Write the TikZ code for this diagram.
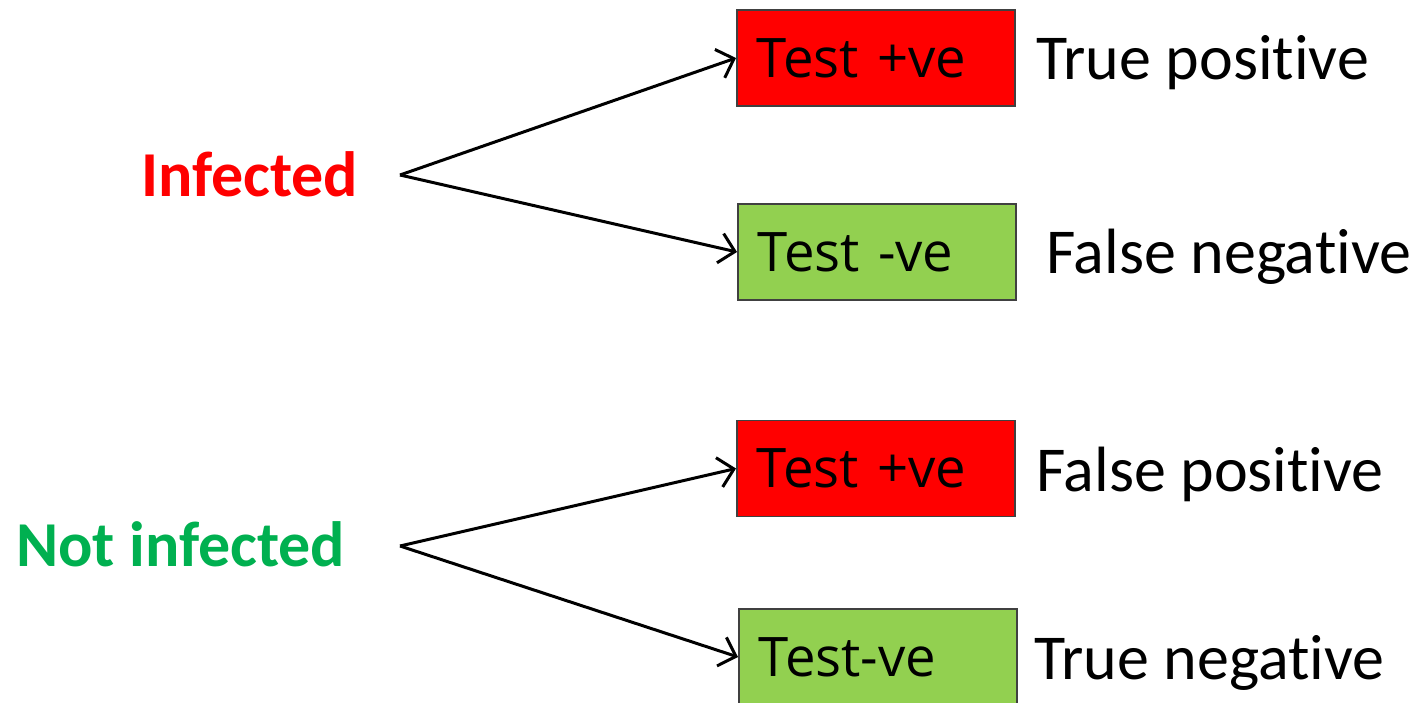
\documentclass[tikz,border=0pt]{standalone}
\usepackage{fontspec}
\setmainfont{Carlito}[RawFeature={-liga;-clig;-dlig}]
\newfontfamily\boxfont{Open Sans}
\usetikzlibrary{arrows.meta}
\definecolor{boxred}{HTML}{FF0000}
\definecolor{boxgreen}{HTML}{92D050}
\definecolor{txtgreen}{HTML}{00B050}
\definecolor{edge}{HTML}{404040}
\tikzset{
  testbox/.style={draw=edge, line width=1.5pt, minimum width=278pt, minimum height=96pt,
    inner xsep=20pt, text width=238pt, align=left, font=\boxfont\fontsize{54.5}{62}\selectfont, anchor=west},
  outcome/.style={anchor=base west, inner sep=0pt, font=\fontsize{64}{70}\selectfont},
  status/.style={anchor=base west, inner sep=0pt, font=\fontsize{64}{70}\selectfont\bfseries},
  branch/.style={line width=3pt, -{Straight Barb[length=15pt,width=30pt,line width=3pt]}}
}
\begin{document}
\begin{tikzpicture}[x=1pt,y=-1pt]
\useasboundingbox (0,0) rectangle (1417,703);
\begin{scope}
\clip (0,0) rectangle (1417,703);
\node[testbox, fill=boxred] (b1) at (736,58) {Test +ve};
\node[testbox, fill=boxgreen] (b2) at (737,252) {Test -ve};
\node[testbox, fill=boxred] (b3) at (736,468.5) {Test +ve};
\node[testbox, fill=boxgreen] (b4) at (738,657) {Test-ve};
\end{scope}

\node[outcome] (o1) at (1036,80) {True positive};
\node[outcome] (o2) at (1046,274) {False negative};
\node[outcome] (o3) at (1036,491) {False positive};
\node[outcome] (o4) at (1034,679) {True negative};

\node[status, text=boxred] (inf) at (141,197) {Infected};
\node[status, text=txtgreen] (ninf) at (16,566) {Not infected};

\coordinate (a1) at (400,175);
\coordinate (a2) at (400,546);

\draw[branch] (a1) -- (b1.west);
\draw[branch] (a1) -- (b2.west);
\draw[branch] (a2) -- (b3.west);
\draw[branch] (a2) -- (b4.west);
\end{tikzpicture}
\end{document}
